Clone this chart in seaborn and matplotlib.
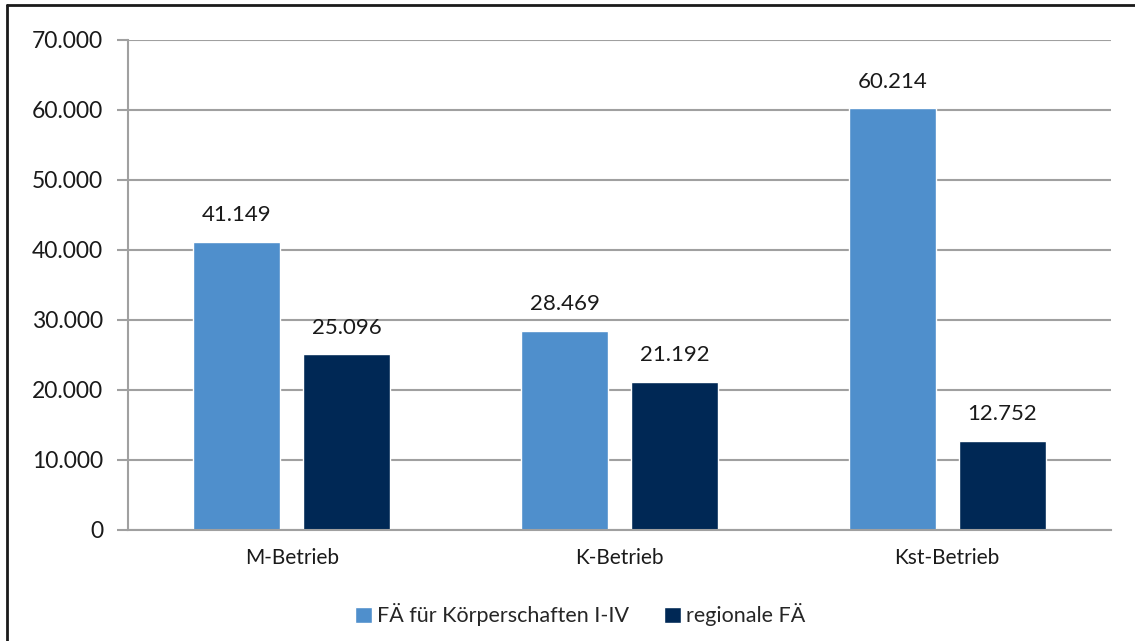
import matplotlib
matplotlib.use("Agg")
import matplotlib.pyplot as plt
from matplotlib.lines import Line2D
from matplotlib.ticker import FuncFormatter
import seaborn as sns
import pandas as pd

categories = ["M-Betrieb", "K-Betrieb", "Kst-Betrieb"]
series_names = ["FÄ für Körperschaften I-IV", "regionale FÄ"]
koerperschaften = [41149, 28469, 60214]
regionale = [25096, 21192, 12752]
y_ticks = [0, 10000, 20000, 30000, 40000, 50000, 60000, 70000]

colors = ["#4F8FCC", "#002855"]
grid_color = "#A0A0A0"

df = pd.DataFrame({
    "Betrieb": categories * 2,
    "Reihe": [series_names[0]] * 3 + [series_names[1]] * 3,
    "Wert": koerperschaften + regionale,
})

sns.set_style("white")
plt.rcParams["font.family"] = ["Lato", "DejaVu Sans"]


def de_format(v):
    return f"{int(round(v)):,}".replace(",", ".")


fig = plt.figure(figsize=(11.35, 6.41), dpi=100)
ax = fig.add_axes([0.1128, 0.1732, 0.8661, 0.7644])

sns.barplot(data=df, x="Betrieb", y="Wert", hue="Reihe", order=categories,
            hue_order=series_names, palette=colors, width=0.672, gap=0.21,
            saturation=1, ax=ax, legend=True)

ax.set_ylim(0, 70000)
ax.set_yticks(y_ticks)
ax.yaxis.set_major_formatter(FuncFormatter(lambda v, p: de_format(v)))
ax.set_xlabel("")
ax.set_ylabel("")
ax.set_xlim(-0.5, 2.5)

ax.grid(axis="y", color=grid_color, linewidth=1.5)
ax.set_axisbelow(True)
for s in ["top", "right"]:
    ax.spines[s].set_visible(False)
for s in ["left", "bottom"]:
    ax.spines[s].set_color(grid_color)
    ax.spines[s].set_linewidth(1.5)
ax.tick_params(axis="y", length=8, width=1.5, color=grid_color, labelsize=16.5,
               pad=10, left=True)
ax.tick_params(axis="x", length=0, labelsize=15, pad=13, labelcolor="#1a1a1a")
for lbl in ax.get_yticklabels():
    lbl.set_color("#1a1a1a")

for container in ax.containers:
    ax.bar_label(container, labels=[de_format(v) for v in container.datavalues],
                 padding=12, fontsize=16, color="#1a1a1a")

ax.legend(loc="upper center", bbox_to_anchor=(0.46, -0.11), ncol=2,
          frameon=False, fontsize=15.5, handlelength=0.8, handleheight=0.8,
          handletextpad=0.25, columnspacing=1.6)

# frame lines on the left and top edges of the figure
fig.add_artist(Line2D([7 / 1135, 7 / 1135], [0, 1 - 5 / 641],
                      transform=fig.transFigure, color="#1a1a1a", linewidth=2))
fig.add_artist(Line2D([7 / 1135, 1], [1 - 5 / 641, 1 - 5 / 641],
                      transform=fig.transFigure, color="#1a1a1a", linewidth=2))

fig.savefig("out.png", dpi=100)
